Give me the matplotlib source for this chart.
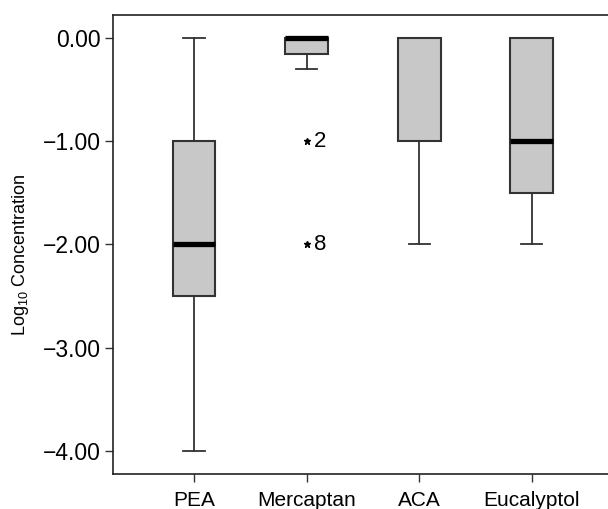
import matplotlib
matplotlib.use('Agg')
import matplotlib.pyplot as plt

plt.rcParams['font.family'] = ['Liberation Sans', 'DejaVu Sans']
plt.rcParams['mathtext.fontset'] = 'custom'
plt.rcParams['mathtext.rm'] = 'Liberation Sans'
plt.rcParams['mathtext.it'] = 'Liberation Sans'

categories = ['PEA', 'Mercaptan', 'ACA', 'Eucalyptol']
whisker_low = [-4.0, -0.3, -2.0, -2.0]
q1 = [-2.5, -0.15, -1.0, -1.5]
medians = [-2.0, 0.0, 0.0, -1.0]
q3 = [-1.0, 0.0, 0.0, 0.0]
whisker_high = [0.0, 0.0, 0.0, 0.0]
show_median = [True, True, False, True]
# outliers: (category index, value, case label)
outliers = [(1, -1.0, '2'), (1, -2.0, '8')]

stats = []
for i, name in enumerate(categories):
    fl = [v for (k, v, _) in outliers if k == i]
    stats.append(dict(label=name, whislo=whisker_low[i], q1=q1[i], med=medians[i],
                      q3=q3[i], whishi=whisker_high[i], fliers=fl))

fig = plt.figure(figsize=(6.08, 5.09), dpi=100)
ax = fig.add_axes([0.186, 0.069, 0.814, 0.9015])

bp = ax.bxp(stats, widths=0.38, patch_artist=True,
            boxprops=dict(facecolor='#c8c8c8', edgecolor='#333333', linewidth=1.5),
            medianprops=dict(color='black', linewidth=3.8, solid_capstyle='butt'),
            whiskerprops=dict(color='#333333', linewidth=1.3),
            capprops=dict(color='#333333', linewidth=1.3),
            capwidths=0.19,
            flierprops=dict(marker='*', markersize=5, markerfacecolor='black',
                            markeredgecolor='black', linestyle='none'))
for line, show in zip(bp['medians'], show_median):
    line.set_visible(show)

for k, v, lab in outliers:
    ax.annotate(lab, (k + 1, v), xytext=(5, 0), textcoords='offset points',
                ha='left', va='center', fontsize=16)

ax.set_xlim(0.281, 4.677)
ax.set_ylim(-4.223, 0.223)
ax.set_yticks([0, -1, -2, -3, -4])
ax.set_yticklabels(['0.00', '\u22121.00', '\u22122.00', '\u22123.00', '\u22124.00'])
ax.tick_params(axis='both', labelsize=15, length=6, width=1, color='#333333')
ax.tick_params(axis='y', labelsize=16.5, pad=3)
ax.tick_params(axis='x', pad=6)
ax.set_ylabel('Log$_{10}$ Concentration', fontsize=13)
ax.yaxis.set_label_coords(-0.165, 0.477)

ax.spines['right'].set_visible(False)
for s in ['left', 'top', 'bottom']:
    ax.spines[s].set_linewidth(1.2)
    ax.spines[s].set_color('#222222')

fig.savefig('out.png', dpi=100)
